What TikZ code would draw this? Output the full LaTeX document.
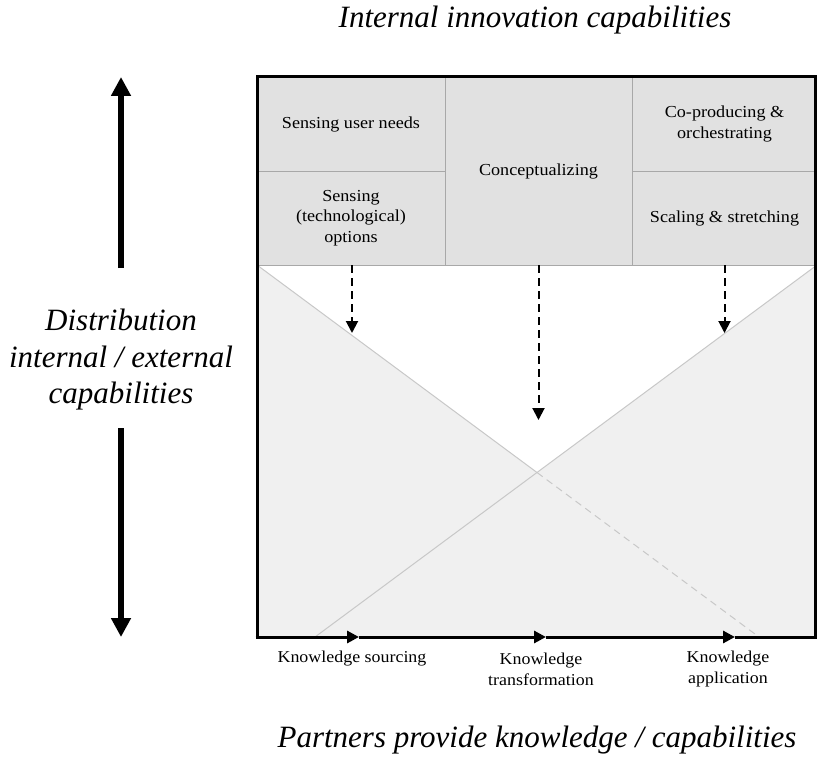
\documentclass[tikz,border=0pt]{standalone}
\usepackage{fontspec}
\setmainfont{Liberation Serif}
\newfontfamily\widefont[FakeStretch=1.08]{Liberation Serif}
\usetikzlibrary{arrows.meta}
\definecolor{bandgray}{RGB}{225,225,225}
\definecolor{fieldgray}{RGB}{240,240,240}
\definecolor{cellline}{RGB}{168,168,168}
\definecolor{crossline}{RGB}{200,200,200}

\begin{document}
\begin{tikzpicture}
[every node/.style={inner sep=0pt},
 cell/.style={rectangle, fill=bandgray, draw=cellline, line width=0.8pt, align=center, font=\widefont\fontsize{16.8}{20.5}\selectfont},
 axislabel/.style={align=center, font=\widefont\fontsize{16.6}{21}\selectfont},
 bigtitle/.style={align=center, font=\fontsize{31}{36.5}\selectfont\itshape},
 flow/.style={line width=2pt, dash pattern=on 8pt off 5pt, -{Triangle[length=12pt, width=12pt]}},
 axis/.style={line width=3pt, -{Triangle[length=12pt, width=12pt]}},
 bigarrow/.style={line width=6pt, -{Triangle[length=19pt, width=19pt]}}]
\useasboundingbox (0pt, 0pt) rectangle (817pt, -760pt);
% lower field with the crossing lines
\fill [fieldgray] (257pt, -265pt) rectangle (817pt, -637pt);
\coordinate (xing) at (537pt, -472.5pt);
\fill [white] (257pt, -265pt) -- (817pt, -265pt) -- (xing) -- cycle;
\draw [crossline, line width=1pt] (257pt, -265pt) -- (xing);
\draw [crossline, line width=1pt, dash pattern=on 7pt off 5pt] (xing) -- (759pt, -637pt);
\draw [crossline, line width=1pt] (315pt, -637pt) -- (817pt, -265pt);
% capability cells
\node (userneeds) [cell, minimum width=188pt, minimum height=94pt] at (351pt, -124pt) {Sensing user needs};
\node (options) [cell, minimum width=188pt, minimum height=94pt] at (351pt, -218pt) {Sensing\\(technological)\\options};
\node (concept) [cell, minimum width=187pt, minimum height=188pt] at (538.5pt, -171pt) {Conceptualizing};
\node (coproduce) [cell, minimum width=185pt, minimum height=94pt] at (724.5pt, -124pt) {Co-producing \&\\orchestrating};
\node (scaling) [cell, minimum width=185pt, minimum height=94pt] at (724.5pt, -218pt) {Scaling \& stretching};
% frame
\draw [line width=3pt] (257pt, -637pt) -- (257pt, -77pt) -- (815.5pt, -77pt) -- (815.5pt, -637pt);
% dashed arrows
\coordinate (optend) at (352pt, -333pt);
\coordinate (conend) at (538.5pt, -420pt);
\coordinate (scaend) at (724.5pt, -333pt);
\draw [flow] (options.south -| optend) -- (optend);
\draw [flow] (concept.south) -- (conend);
\draw [flow] (scaling.south) -- (scaend);
% knowledge axis
\node (sourcing) [axislabel] at (352pt, -659pt) {Knowledge sourcing};
\node (transformation) [axislabel] at (541pt, -669pt) {Knowledge\\transformation};
\node (application) [axislabel] at (728pt, -669pt) {Knowledge\\application};
\coordinate (axstart) at (255.5pt, -637pt);
\coordinate (tipa) at (359pt, -637pt);
\coordinate (tipb) at (546pt, -637pt);
\coordinate (tipc) at (735pt, -637pt);
\coordinate (axend) at (817pt, -637pt);
\draw [axis] (axstart) -- (tipa);
\draw [axis] (tipa) -- (tipb);
\draw [axis] (tipb) -- (tipc);
\draw [line width=3pt] (tipc) -- (axend);
% distribution arrow
\node (distribution) [bigtitle] at (121pt, -360pt) {Distribution\\internal / external\\capabilities};
\coordinate (upstart) at (121pt, -268pt);
\coordinate (uptip) at (121pt, -77pt);
\coordinate (downstart) at (121pt, -428pt);
\coordinate (downtip) at (121pt, -637pt);
\draw [bigarrow] (upstart) -- (uptip);
\draw [bigarrow] (downstart) -- (downtip);
% titles
\node (innovation) [bigtitle] at (535pt, -20pt) {Internal innovation capabilities};
\node (partners) [bigtitle] at (537pt, -740pt) {Partners provide knowledge / capabilities};
\end{tikzpicture}
\end{document}
